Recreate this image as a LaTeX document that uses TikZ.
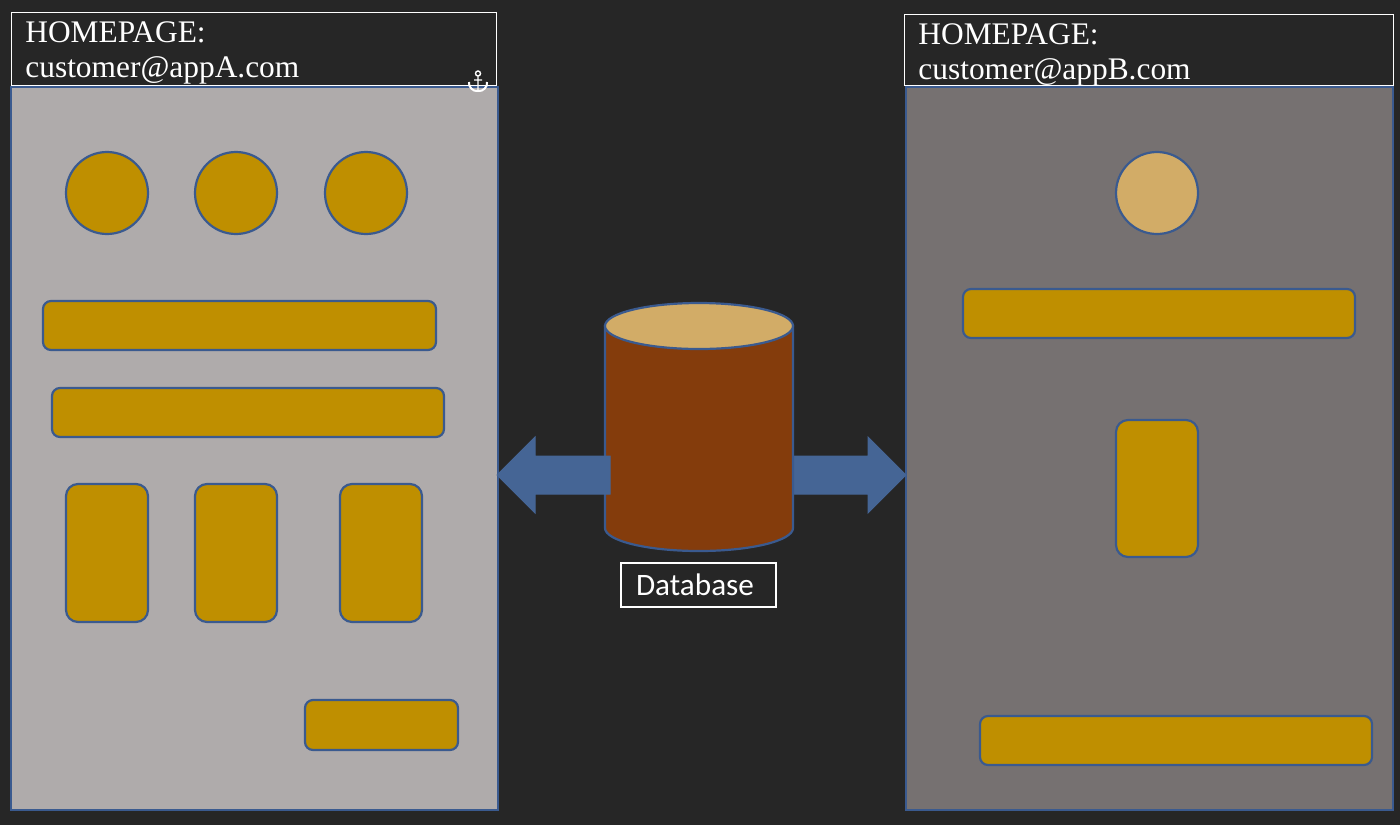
\documentclass[tikz,border=0pt]{standalone}
\usepackage{fontspec}
\setmainfont{Liberation Serif}
\newfontfamily\labelfont{Carlito}
\definecolor{pagebg}{HTML}{262626}
\definecolor{panelA}{HTML}{AFABAB}
\definecolor{panelB}{HTML}{767171}
\definecolor{gold}{HTML}{BF8F00}
\definecolor{lightgold}{HTML}{D2AC67}
\definecolor{edgeblue}{HTML}{3A5A8F}
\definecolor{arrowblue}{HTML}{456595}
\definecolor{barrel}{HTML}{843C0C}
\tikzset{
	panel/.style={draw=edgeblue,line width=1.3pt,rectangle,inner sep=0pt},
	widget/.style={draw=edgeblue,line width=1.1pt,fill=gold},
	dot/.style={widget,circle,inner sep=0pt,minimum size=41pt},
	header/.style={draw=white,line width=0.5pt,fill=pagebg},
	homepage/.style={text=white,font=\fontsize{15.7}{17.5}\selectfont,align=left,anchor=north west,inner sep=0pt},
}
\begin{document}
\begin{tikzpicture}[x=0.5pt,y=-0.5pt]
	\useasboundingbox[fill=pagebg] (0,0) rectangle (1400,825);
	\coordinate (TL) at (605,326);
	\coordinate (TR) at (793,326);
	\coordinate (BL) at (605,528);
	\coordinate (BR) at (793,528);
	% panels
	\draw [panel,fill=panelA] (11,87) rectangle (498,810);
	\draw [panel,fill=panelB] (906,87) rectangle (1393,810);
	% headers
	\draw [header] (11,12) rectangle (496,85);
	\draw [header] (904,14) rectangle (1393,85);
	\node [homepage] (homeA) at (25,21) {HOMEPAGE:\\customer@appA.com};
	\node [homepage] (homeB) at (918,23) {HOMEPAGE:\\customer@appB.com};
	% anchor mark
	\draw [white,line width=0.7pt] (478,73.5) circle (2.5) (478,76) to (478,90) (474,80) to (482,80);
	\draw [white,line width=1pt] (469,82) to [bend right=55] (478,91) to [bend right=55] (487,82);
	% panel A widgets
	\foreach \name/\x in {dotA/107,dotB/236,dotC/366}
		\node [dot] (\name) at (\x,193) {};
	\draw [widget,rounded corners=4pt] (43,301) rectangle (436,350);
	\draw [widget,rounded corners=4pt] (52,388) rectangle (444,437);
	\draw [widget,rounded corners=6pt] (66,484) rectangle (148,622);
	\draw [widget,rounded corners=6pt] (195,484) rectangle (277,622);
	\draw [widget,rounded corners=6pt] (340,484) rectangle (422,622);
	\draw [widget,rounded corners=4pt] (305,700) rectangle (458,750);
	% panel B widgets
	\node [dot,fill=lightgold] (dotD) at (1157,193) {};
	\draw [widget,rounded corners=4pt] (963,289) rectangle (1355,338);
	\draw [widget,rounded corners=6pt] (1116,420) rectangle (1198,557);
	\draw [widget,rounded corners=4pt] (980,716) rectangle (1372,765);
	% database
	\draw [arrowblue,fill=arrowblue,line width=0.5pt] (793,456) to (868,456) to (868,437) to (906,475) to (868,513) to (868,494) to (793,494) to cycle;
	\draw [edgeblue,line width=1.1pt,fill=barrel] (TL) to (BL) arc [start angle=180,end angle=360,x radius=94,y radius=-23] to (TR) to cycle;
	\draw [edgeblue,line width=1.1pt,fill=lightgold] (699,326) ellipse [x radius=94,y radius=23];
	\draw [arrowblue,fill=arrowblue,line width=0.5pt] (610,456) to (535,456) to (535,437) to (497,475) to (535,513) to (535,494) to (610,494) to cycle;
	\node [draw=white,line width=0.6pt,text=white,font=\labelfont\fontsize{15.6}{18}\selectfont,minimum width=77.5pt,minimum height=22pt,inner sep=0pt] (dbname) at (698.5,585) {Database\hbox to 3.5pt{}};
\end{tikzpicture}
\end{document}
